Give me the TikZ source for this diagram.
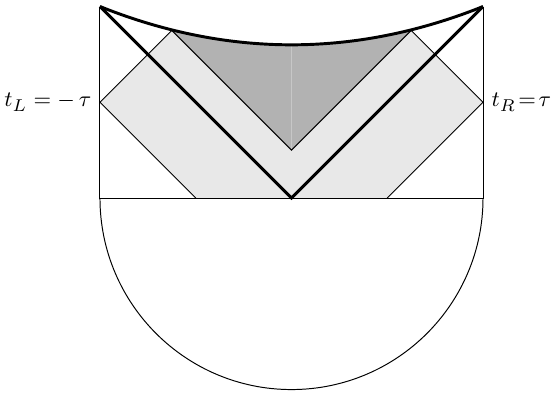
\documentclass[tikz,border=0pt]{standalone}

\begin{document}
\begin{tikzpicture}[
    x=2.75cm, y=2.75cm,
    band/.style={fill=black!9},
    wedge/.style={fill=black!30},
    bold/.style={line width=1.2pt},
    time/.style={font=\fontsize{9.3}{11}\selectfont}
]
    \useasboundingbox (-1.522,-1.029) rectangle (1.355,1.034);

    % corners of the strip
    \coordinate (BL) at (-1,0);
    \coordinate (BR) at (1,0);
    \coordinate (TL) at (-1,1);
    \coordinate (TR) at (1,1);
    \coordinate (O) at (0,0);

    % points on the sides and the bottom
    \coordinate (L) at (-1,0.5);
    \coordinate (R) at (1,0.5);
    \coordinate (LB) at (-0.5,0);
    \coordinate (RB) at (0.5,0);
    \coordinate (V) at (0,0.25);

    % points above the cut-off curve
    \coordinate (LX) at (-0.5,1);
    \coordinate (RX) at (0.5,1);
    \coordinate (VL) at (-0.75,1);
    \coordinate (VR) at (0.75,1);
    \coordinate (VM) at (0,1);

    % shaded regions, cut off by the curve
    \begin{scope}
        \clip (TL) .. controls (-1/3,0.7333) and (1/3,0.7333) .. (TR) -- (BR) -- (BL) -- cycle;
        \fill[band] (L) -- (LX) -- (V) -- (RX) -- (R) -- (RB) -- (LB) -- cycle;
        \fill[wedge] (V) -- (VL) -- (VR) -- cycle;
        \draw[black!22, line width=0.3pt] (V) -- (VM);
        \draw (LB) -- (L) -- (LX);
        \draw (RB) -- (R) -- (RX);
        \draw (VL) -- (V) -- (VR);
    \end{scope}

    % box and half disc
    \draw (TL) -- (BL) -- (BR) -- (TR);
    \draw (BL) arc[start angle=180, end angle=360, radius=1];

    % light rays and the curve
    \draw[bold] (TL) -- (O) -- (TR);
    \draw[bold] (TL) .. controls (-1/3,0.7333) and (1/3,0.7333) .. (TR);

    % times
    \node[time, left] (tL) at (L) {$t_L = -\,\tau$};
    \node[time, right] (tR) at (R) {$t_R\!=\!\tau$};

\end{tikzpicture}
\end{document}
